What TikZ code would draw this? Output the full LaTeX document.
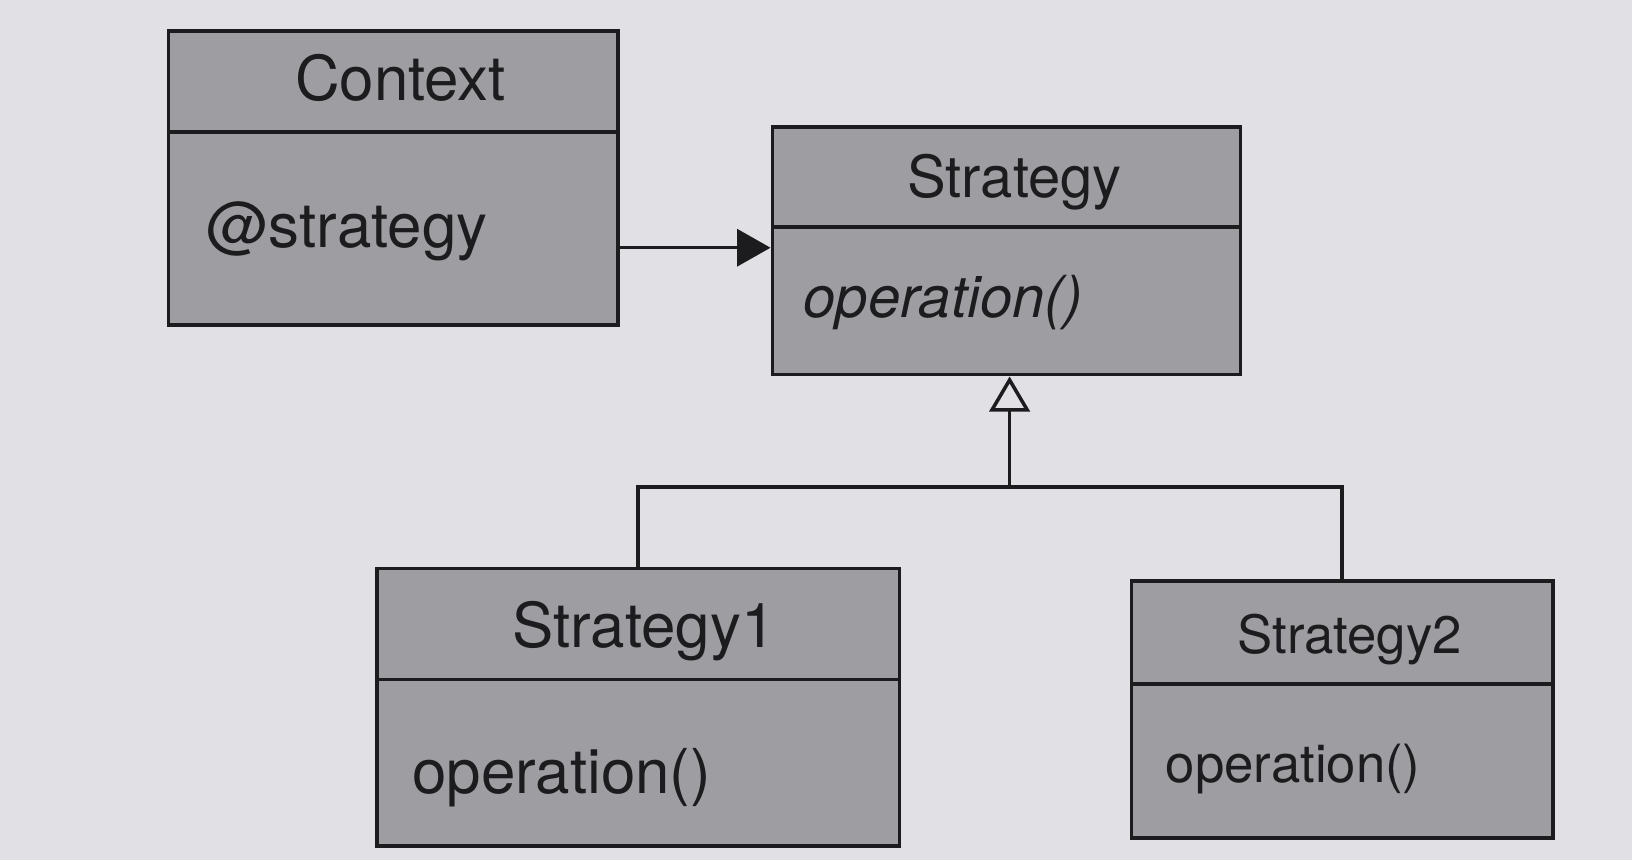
\documentclass[tikz,border=0pt]{standalone}
\usepackage{fontspec}
\setmainfont{TeX Gyre Heros}
\usetikzlibrary{arrows.meta,fit}
\definecolor{paper}{RGB}{225,224,228}
\definecolor{boxgray}{RGB}{158,157,161}
\definecolor{ink}{RGB}{28,28,30}

\begin{document}
\begin{tikzpicture}[x=0.010408cm, y=-0.010408cm,
	classbox/.style={draw=ink, fill=boxgray, line width=1pt, inner sep=0pt},
	divider/.style={draw=ink, line width=1pt},
	title/.style={anchor=base, inner sep=0pt, text=ink},
	member/.style={anchor=base west, inner sep=0pt, text=ink},
	assoc/.style={draw=ink, line width=1pt, -{Triangle[length=9.5pt,width=10.5pt]}},
	inherit/.style={draw=ink, line width=1pt},
	]
	\def \sizebig{ \fontsize{17.6}{21}\selectfont };
	\def \sizemid{ \fontsize{16.5}{20}\selectfont };
	\def \sizesmall{ \fontsize{15}{18}\selectfont };
	\fill[paper] (0,0) rectangle (1568,826.3);
	\useasboundingbox (0,0) rectangle (1568,826.3);
	% class boxes
	\node[classbox, fit={(162,30) (594,312)}] (context) {};
	\node[classbox, fit={(742,122) (1192,360)}] (strategy) {};
	\node[classbox, fit={(362,546) (864,813)}] (strategy1) {};
	\node[classbox, fit={(1087,558) (1492,805)}] (strategy2) {};
	\draw[divider] (162,127) -- (594,127);
	\draw[divider] (742,218) -- (1192,218);
	\draw[divider] (362,653) -- (864,653);
	\draw[divider] (1087,657) -- (1492,657);
	% texts
	\node[title, font=\sizebig] (contextname) at (380,97) {Context};
	\node[member, font=\sizebig] (contextattr) at (188,238) {@strategy};
	\node[title, font=\sizemid] (strategyname) at (970,190) {Strategy};
	\node[member, font=\sizemid\itshape] (strategyop) at (762,305) {operation()};
	\node[title, font=\sizebig] (strategy1name) at (614,622) {Strategy1};
	\node[member, font=\sizebig] (strategy1op) at (386,762) {operation()};
	\node[title, font=\sizesmall] (strategy2name) at (1292,628) {Strategy2};
	\node[member, font=\sizesmall] (strategy2op) at (1110,752) {operation()};
	% connectors
	\coordinate (ref) at (0,238);
	\coordinate (fork) at (970,468);
	\draw[assoc] (context.east |- ref) -- (strategy.west |- ref);
	\draw[inherit] (strategy1.north) |- (fork) -| (strategy2.north);
	\draw[inherit, -{Triangle[open, length=10pt, width=11.5pt]}] (fork) -- (fork |- strategy.south);
\end{tikzpicture}
\end{document}
